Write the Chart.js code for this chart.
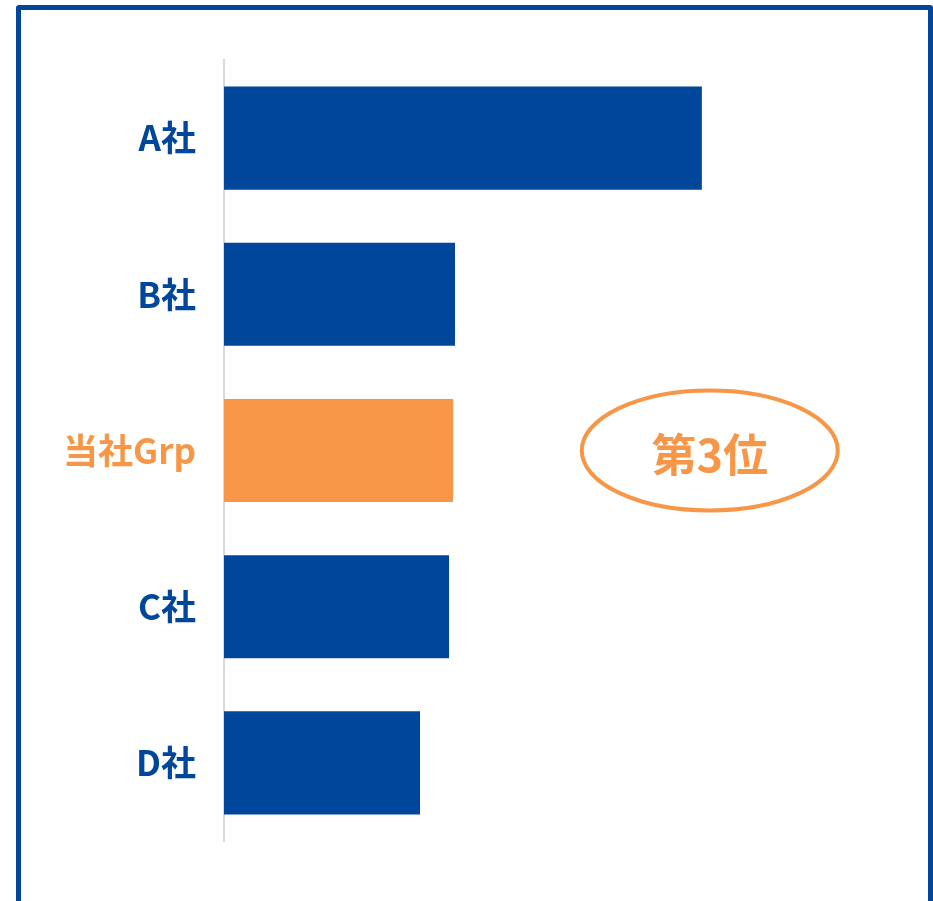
<!DOCTYPE html>
<html><head><meta charset="utf-8">
<script src="https://cdn.jsdelivr.net/npm/chart.js@4"></script>
<style>
html,body{margin:0;padding:0;background:#fff;overflow:hidden}
#wrap{position:absolute;left:0;top:0;width:933px;height:901px}
#frame{position:absolute;left:16px;top:5px;width:907px;height:920px;border:5px solid #00479B;border-radius:3px;box-sizing:content-box}
canvas{position:absolute;left:0;top:0}
</style></head><body>
<div id="wrap"><div id="frame"></div><canvas id="c" width="933" height="901"></canvas></div>
<script>
const categories = ["A社","B社","当社Grp","C社","D社"];
const values = [72.4, 35.0, 34.7, 34.1, 29.7];
const barColors = ["#00479B","#00479B","#F79646","#00479B","#00479B"];
const labelColors = ["#00479B","#00479B","#F79646","#00479B","#00479B"];
const annotationText = "第3位";
const annotationAt = {x: 73.6, index: 2};

const ellipsePlugin = {
  id: 'ellipse',
  afterDraw(chart){
    const ctx = chart.ctx;
    const cx = chart.scales.x.getPixelForValue(annotationAt.x);
    const cy = chart.scales.y.getPixelForValue(annotationAt.index);
    ctx.save();
    ctx.beginPath();
    ctx.ellipse(cx, cy, 128, 60, 0, 0, Math.PI*2);
    ctx.lineWidth = 4;
    ctx.strokeStyle = "#F79646";
    ctx.stroke();
    ctx.fillStyle = "#F79646";
    ctx.font = "bold 45px 'Noto Sans CJK JP'";
    ctx.textAlign = "center";
    ctx.textBaseline = "middle";
    ctx.fillText(annotationText, cx, cy + 4);
    ctx.restore();
  }
};

new Chart(document.getElementById('c'), {
  type: 'bar',
  data: {
    labels: categories,
    datasets: [{data: values, backgroundColor: barColors, borderWidth: 0,
      categoryPercentage: 1.0, barPercentage: 0.66}]
  },
  options: {
    indexAxis: 'y',
    responsive: false,
    animation: false,
    events: [],
    layout: {padding: {top: 60, bottom: 60, right: 49, left: 0}},
    plugins: {legend: {display: false}, tooltip: {enabled: false}},
    scales: {
      x: {display: false, min: 0, max: 100},
      y: {
        grid: {display: false, drawTicks: false},
        border: {display: true, color: '#D9D9D9', width: 2},
        afterFit(s){ s.width = 224; },
        ticks: {
          padding: 28,
          color: (c) => labelColors[c.index],
          font: {family: "'Noto Sans CJK JP'", size: 35, weight: 'bold'}
        }
      }
    }
  },
  plugins: [ellipsePlugin]
});
</script>
</body></html>
